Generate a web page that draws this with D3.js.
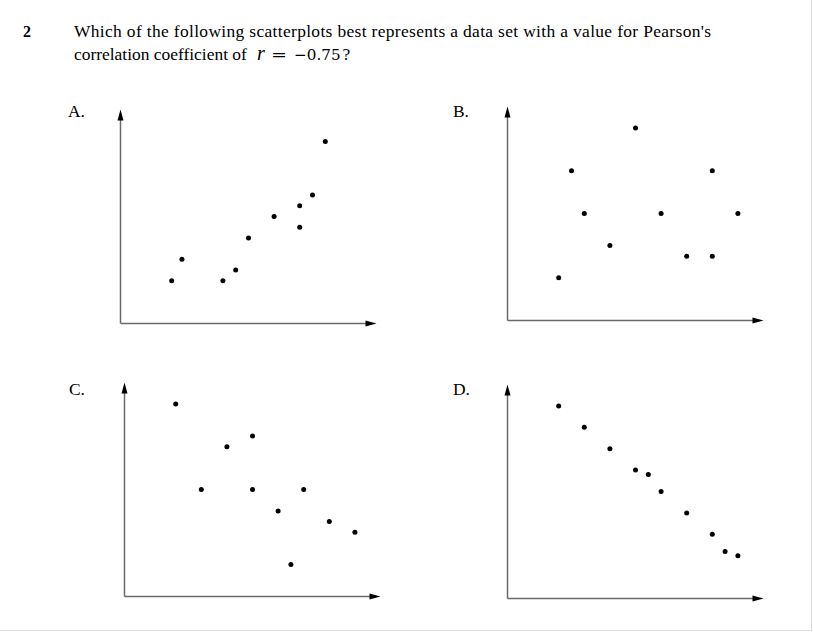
<!DOCTYPE html>
<html>
<head>
<meta charset="utf-8">
<script src="https://cdn.jsdelivr.net/npm/d3@7"></script>
<style>
  html, body { margin: 0; padding: 0; background: #fff; }
  svg { display: block; }
  .serif { font-family: "Liberation Serif", "Times New Roman", Times, serif; }
  .math { font-family: "DejaVu Serif", "Liberation Serif", serif; }
</style>
</head>
<body>
<svg id="chart" width="813" height="632"></svg>
<script>
// ---- data ----
const questionNumber = "2";
const questionLine1 = "Which of the following scatterplots best represents a data set with a value for Pearson's";
const questionLine2a = "correlation coefficient of";
const questionVar = "r";
const questionEq = "=";
const questionValue = "\u22120.75";
const questionEnd = "?";
const panelLabels = ["A.", "B.", "C.", "D."];

const aX = [4, 4.8, 8, 9, 10, 12, 14, 14, 15, 16];
const aY = [4, 6, 4, 5, 8, 10, 11, 9, 12, 17];

const bX = [4, 5, 6, 8, 10, 12, 14, 16, 16, 18];
const bY = [4, 14, 10, 7, 18, 10, 6, 14, 6, 10];

const cX = [4, 6, 8, 10, 10, 12, 13, 14, 16, 18];
const cY = [18, 10, 14, 15, 10, 8, 3, 10, 7, 6];

const dX = [4, 6, 8, 10, 11, 12, 14, 16, 17, 18];
const dY = [18, 16, 14, 12, 11.6, 10, 8, 6, 4.4, 4];

const axisDomain = [0, 20];

// ---- layout ----
const svg = d3.select("#chart");
const W = 813, H = 632;

// page frame (light border right/bottom)
svg.append("line").attr("x1", W - 1.5).attr("x2", W - 1.5).attr("y1", 0).attr("y2", H - 1.5)
  .attr("stroke", "#dcdcdc").attr("stroke-width", 1);
svg.append("line").attr("x1", 0).attr("x2", W - 1.5).attr("y1", H - 1.5).attr("y2", H - 1.5)
  .attr("stroke", "#dcdcdc").attr("stroke-width", 1);

svg.append("text").attr("class", "serif").attr("x", 23).attr("y", 36.5)
  .attr("font-weight", "bold").attr("font-size", 16)
  .text(questionNumber);

// line 2 first part sets the font size (74 -> 247 in the reference)
const t2 = svg.append("text").attr("class", "serif").attr("x", 74).attr("y", 60)
  .attr("font-size", 16).text(questionLine2a);
const fs = 16 * 173 / t2.node().getComputedTextLength();
t2.attr("font-size", fs);

svg.append("text").attr("class", "serif").attr("x", 74).attr("y", 36.5)
  .attr("font-size", fs).attr("fill", "#000")
  .attr("textLength", 637).attr("lengthAdjust", "spacing")
  .text(questionLine1);

svg.append("text").attr("class", "serif").attr("x", 257).attr("y", 60)
  .attr("font-size", fs * 1.15).attr("font-style", "italic").text(questionVar);
svg.append("text").attr("class", "math").attr("x", 271).attr("y", 60)
  .attr("font-size", 17).attr("textLength", 16).attr("lengthAdjust", "spacingAndGlyphs")
  .text(questionEq);
const tv = svg.append("text").attr("x", 294).attr("y", 60);
tv.append("tspan").attr("class", "math").attr("font-size", 15.2).text(questionValue);
tv.append("tspan").attr("class", "serif").attr("font-size", fs).attr("dx", 2).text(questionEnd);

const panels = [
  { label: panelLabels[0], xs: aX, ys: aY, ox: 120.5, oy: 323.5, lx: 68,  ly: 116.5 },
  { label: panelLabels[1], xs: bX, ys: bY, ox: 507.5, oy: 320.5, lx: 453, ly: 116.5 },
  { label: panelLabels[2], xs: cX, ys: cY, ox: 124.5, oy: 596.5, lx: 69,  ly: 395 },
  { label: panelLabels[3], xs: dX, ys: dY, ox: 507.5, oy: 598.5, lx: 453, ly: 395 }
];
const plotW = 256, plotH = 214;

panels.forEach(p => {
  const g = svg.append("g");
  const x = d3.scaleLinear().domain(axisDomain).range([p.ox, p.ox + plotW]);
  const y = d3.scaleLinear().domain(axisDomain).range([p.oy, p.oy - plotH]);

  g.append("text").attr("class", "serif").attr("x", p.lx).attr("y", p.ly)
    .attr("font-size", fs).text(p.label);

  // axes
  g.append("line").attr("x1", x(0)).attr("x2", x(0)).attr("y1", y(0)).attr("y2", y(20) + 8)
    .attr("stroke", "#6a6a6a").attr("stroke-width", 1.5);
  g.append("line").attr("x1", x(0)).attr("x2", x(20) - 8).attr("y1", y(0)).attr("y2", y(0))
    .attr("stroke", "#6a6a6a").attr("stroke-width", 1.5);
  // arrowheads
  const tx = x(0), ty = y(20);
  g.append("path").attr("d", `M${tx},${ty} L${tx - 3},${ty + 11} L${tx + 3},${ty + 11} Z`).attr("fill", "#000");
  const rx = x(20), ry = y(0);
  g.append("path").attr("d", `M${rx},${ry} L${rx - 11},${ry - 3} L${rx - 11},${ry + 3} Z`).attr("fill", "#000");

  // points
  g.selectAll("circle").data(d3.zip(p.xs, p.ys)).join("circle")
    .attr("cx", d => x(d[0])).attr("cy", d => y(d[1])).attr("r", 2.5).attr("fill", "#000");
});
</script>
</body>
</html>
